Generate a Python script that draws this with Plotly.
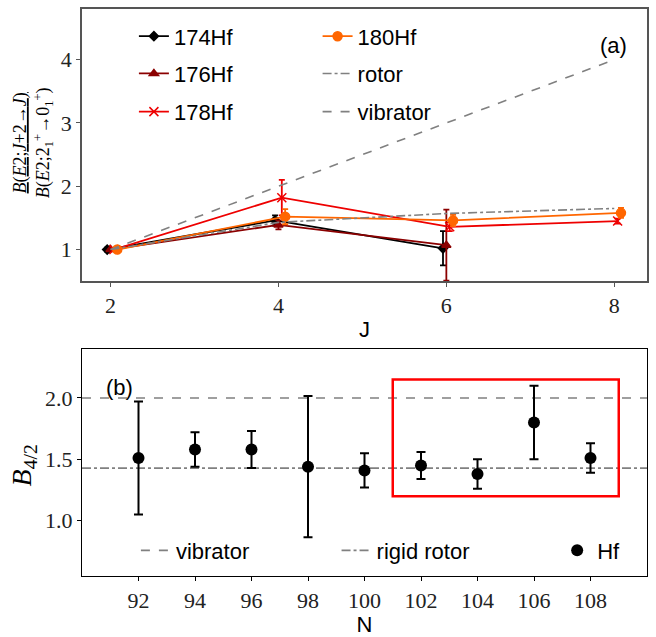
import plotly.graph_objects as go

# ---------------- data: panel (a) ----------------
J_rot = [2, 4, 6, 8]
rotor_B = [1.0, 1.43, 1.57, 1.65]
vibrator_B = [1.0, 2.0, 3.0, 4.0]

hf174_J = [2, 4, 6]
hf174_B = [1.0, 1.46, 1.02]
hf174_err = [0.03, 0.08, 0.27]

hf176_J = [2, 4, 6]
hf176_B = [1.0, 1.39, 1.07]
hf176_err = [0.0, 0.07, 0.56]

hf178_J = [2, 4, 6, 8]
hf178_B = [1.0, 1.82, 1.36, 1.45]
hf178_err = [0.0, 0.28, 0.07, 0.04]

hf180_J = [2, 4, 6, 8]
hf180_B = [1.0, 1.52, 1.46, 1.58]
hf180_err = [0.0, 0.12, 0.09, 0.08]

J_offsets = {"174Hf": -0.04, "176Hf": 0.0, "178Hf": 0.04, "180Hf": 0.08}

# ---------------- data: panel (b) ----------------
N_vals = [92, 94, 96, 98, 100, 102, 104, 106, 108]
B42 = [1.51, 1.58, 1.58, 1.44, 1.41, 1.45, 1.38, 1.80, 1.51]
B42_err = [0.46, 0.14, 0.15, 0.575, 0.14, 0.11, 0.12, 0.30, 0.12]
vibrator_level = 2.0
rigid_rotor_level = 10 / 7
N_range = [90, 110]
box_N = [101, 109]
box_B = [1.2, 2.15]

# ---------------- layout helpers ----------------
W, H = 656, 637
L, R, T, B = 82, 8, 7, 51
def xp(px):
    return (px - L) / (W - L - R)
def yp(py):
    return (H - B - py) / (H - T - B)

SANS = "Liberation Sans"
SERIF = "Liberation Serif"
GRAY = "#808080"

fig = go.Figure()

series = [
    ("174Hf", hf174_J, hf174_B, hf174_err, "#000000", "diamond", 7, "legend"),
    ("176Hf", hf176_J, hf176_B, hf176_err, "#8b0000", "triangle-up", 8, "legend2"),
    ("178Hf", hf178_J, hf178_B, hf178_err, "#ee0000", "x-thin", 9, "legend3"),
    ("180Hf", hf180_J, hf180_B, hf180_err, "#ff6600", "circle", 9, "legend4"),
]
for name, js, bs, es, col, sym, sz, lg in series:
    fig.add_trace(go.Scatter(
        x=[j + J_offsets[name] for j in js], y=bs, name=name, mode="lines+markers",
        line=dict(color=col, width=1.8),
        marker=dict(symbol=sym, size=sz, color=col, line=dict(color=col, width=1.5)),
        error_y=dict(type="data", array=es, color=col, thickness=1.8, width=3),
        xaxis="x", yaxis="y", legend=lg, showlegend=True,
    ))

fig.add_trace(go.Scatter(x=J_rot, y=rotor_B, name="rotor", mode="lines",
                         line=dict(color=GRAY, width=1.6, dash="dashdot"),
                         xaxis="x", yaxis="y", legend="legend5", showlegend=True))
fig.add_trace(go.Scatter(x=J_rot, y=vibrator_B, name="vibrator", mode="lines",
                         line=dict(color=GRAY, width=1.6, dash="dash"),
                         xaxis="x", yaxis="y", legend="legend6", showlegend=True))

# panel (b)
fig.add_trace(go.Scatter(x=N_range, y=[vibrator_level] * 2, name="vibrator", mode="lines",
                         line=dict(color=GRAY, width=1.6, dash="dash"),
                         xaxis="x2", yaxis="y2", legend="legend7", showlegend=True))
fig.add_trace(go.Scatter(x=N_range, y=[rigid_rotor_level] * 2, name="rigid rotor", mode="lines",
                         line=dict(color=GRAY, width=1.6, dash="dashdot"),
                         xaxis="x2", yaxis="y2", legend="legend8", showlegend=True))
fig.add_trace(go.Scatter(x=N_vals, y=B42, name="Hf", mode="markers",
                         marker=dict(symbol="circle", size=12, color="black"),
                         error_y=dict(type="data", array=B42_err, color="black", thickness=2, width=4.5),
                         xaxis="x2", yaxis="y2", legend="legend9", showlegend=True))

fig.add_shape(type="rect", xref="x2", yref="y2", x0=box_N[0], x1=box_N[1],
              y0=box_B[0], y1=box_B[1], line=dict(color="#ff0000", width=2.5))

def leg(px, py):
    return dict(x=xp(px), y=yp(py), xanchor="left", yanchor="middle",
                bgcolor="rgba(0,0,0,0)", borderwidth=0,
                font=dict(family=SANS, size=22, color="black"))

col1, col2 = 134, 318
fig.update_layout(
    width=W, height=H, margin=dict(l=L, r=R, t=T, b=B),
    showlegend=True,
    plot_bgcolor="white", paper_bgcolor="white",
    legend=leg(col1, 35), legend2=leg(col1, 73), legend3=leg(col1, 112),
    legend4=leg(col2, 35), legend5=leg(col2, 73), legend6=leg(col2, 112),
    legend7=leg(136, 560), legend8=leg(337, 560), legend9=leg(558, 560),
    xaxis=dict(domain=[0, 1], anchor="y", range=[1.66, 8.39], tickvals=[2, 4, 6, 8],
               showgrid=False, zeroline=False, showline=True, mirror=True,
               linecolor="#555555", linewidth=1.5, ticks="outside", ticklen=4,
               tickcolor="#555555", tickfont=dict(family=SERIF, size=22, color="#222222"),
               title=dict(text="J", font=dict(family=SANS, size=22, color="black"), standoff=4)),
    yaxis=dict(domain=[yp(285), yp(7)], anchor="x", range=[0.5, 4.8], tickvals=[1, 2, 3, 4],
               showgrid=False, zeroline=False, showline=True, mirror=True,
               linecolor="#555555", linewidth=1.5, ticks="outside", ticklen=4,
               tickcolor="#555555", tickfont=dict(family=SERIF, size=22, color="#222222")),
    xaxis2=dict(domain=[0, 1], anchor="y2", range=N_range, tickvals=N_vals,
                showgrid=False, zeroline=False, showline=True, mirror=True,
                linecolor="black", linewidth=1.2, ticks="outside", ticklen=4,
                tickcolor="black", tickfont=dict(family=SERIF, size=22, color="#222222"),
                title=dict(text="N", font=dict(family=SANS, size=22, color="black"), standoff=2)),
    yaxis2=dict(domain=[0, yp(354)], anchor="x2", range=[0.55, 2.4], tickvals=[1.0, 1.5, 2.0],
                tickformat=".1f",
                showgrid=False, zeroline=False, showline=True, mirror=True,
                linecolor="black", linewidth=1.2, ticks="outside", ticklen=4,
                tickcolor="black", tickfont=dict(family=SERIF, size=22, color="#222222")),
)

def note(text, px, py, size, family, angle=0):
    fig.add_annotation(text=text, xref="paper", yref="paper", x=xp(px), y=yp(py),
                       xanchor="center", yanchor="middle", textangle=angle, showarrow=False,
                       font=dict(family=family, size=size, color="black"))

note("(a)", 614, 44, 22, SANS)
note("(b)", 120, 393, 22, SANS)
note("<u><i>B</i>(<i>E</i>2;<i>J</i>+2→<i>J</i>)</u><br><i>B</i>(<i>E</i>2;2<sub>1</sub><sup>+</sup>→0<sub>1</sub><sup>+</sup>)",
     33, 144, 18, SERIF, -90)
note("<i>B</i><sub>4/2</sub>", 23, 473, 28, SERIF, -90)

fig.write_html("out.html", config={"displayModeBar": False},
               post_script="document.body.style.margin='0';document.body.style.overflow='hidden';")
